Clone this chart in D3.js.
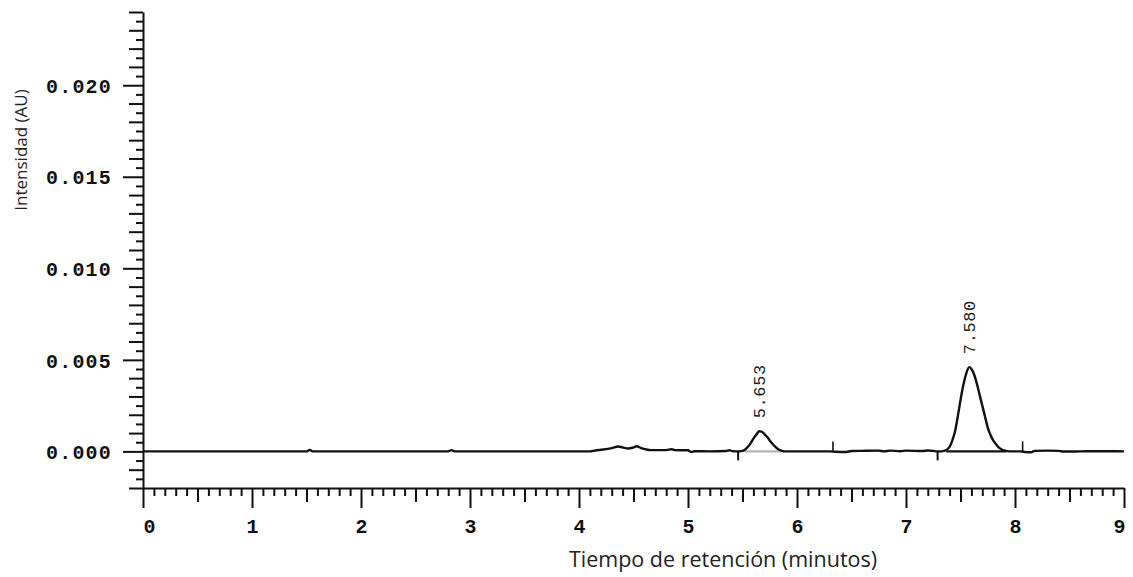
<!DOCTYPE html>
<html>
<head>
<meta charset="utf-8">
<script src="https://cdn.jsdelivr.net/npm/d3@7"></script>
<style>
  html, body { margin: 0; padding: 0; background: #fff; }
  svg { display: block; }
  .tick-label { font-family: "Liberation Mono", "DejaVu Sans Mono", monospace; font-weight: bold; font-size: 20px; fill: #111; }
  .peak-label { font-family: "Liberation Mono", "DejaVu Sans Mono", monospace; font-size: 17px; fill: #222; }
  .axis-title { font-family: "Open Sans", "Noto Sans", sans-serif; fill: #222; }
</style>
</head>
<body>
<svg id="chart" width="1133" height="577"></svg>
<script>
// Chromatogram trace: retention time (min) and absorbance (AU)
const traceTime = [
  0.00, 0.50, 1.00, 1.50, 1.53, 1.56, 2.00, 2.50, 2.80, 2.83, 2.86, 3.50,
  4.10, 4.15, 4.22, 4.30, 4.36, 4.40, 4.45, 4.49, 4.53, 4.57, 4.62, 4.66,
  4.80, 4.85, 4.88, 5.00, 5.03, 5.06, 5.20, 5.35, 5.38, 5.41, 5.45,
  5.50, 5.525, 5.55, 5.575, 5.60, 5.625, 5.653, 5.675, 5.70, 5.725, 5.75,
  5.775, 5.80, 5.825, 5.85, 5.875, 5.90,
  5.95, 6.10, 6.30, 6.35, 6.45, 6.50, 6.60, 6.75, 6.80, 6.85, 6.95, 7.00,
  7.15, 7.20, 7.25, 7.28,
  7.30, 7.35, 7.40, 7.425, 7.45, 7.475, 7.50, 7.525, 7.55, 7.58, 7.60,
  7.625, 7.65, 7.675, 7.70, 7.725, 7.75, 7.775, 7.80, 7.825, 7.85, 7.875,
  7.90, 7.95,
  8.05, 8.10, 8.15, 8.18, 8.30, 8.40, 8.45, 8.60, 8.75, 9.00
];
const traceAU = [
  0.00000, 0.00000, 0.00000, 0.00000, 0.00008, 0.00000, 0.00000, 0.00000, 0.00000, 0.00007, 0.00000, 0.00000,
  0.00000, 0.00005, 0.00010, 0.00018, 0.00027, 0.00022, 0.00016, 0.00020, 0.00028, 0.00018, 0.00010, 0.00007,
  0.00007, 0.00012, 0.00007, 0.00006, -0.00003, 0.00001, 0.00000, 0.00002, 0.00006, 0.00001, 0.00000,
  0.00003, 0.00010, 0.00025, 0.00045, 0.00070, 0.00090, 0.00110, 0.00108, 0.00095, 0.00080, 0.00060,
  0.00042, 0.00026, 0.00013, 0.00005, 0.00001, 0.00000,
  0.00000, 0.00000, 0.00000, -0.00002, -0.00003, 0.00002, 0.00003, 0.00004, 0.00000, 0.00004, 0.00001, 0.00004,
  0.00002, 0.00005, 0.00003, 0.00000,
  0.00000, 0.00003, 0.00025, 0.00060, 0.00110, 0.00190, 0.00280, 0.00360, 0.00420, 0.00460, 0.00450,
  0.00420, 0.00370, 0.00310, 0.00250, 0.00190, 0.00130, 0.00090, 0.00060, 0.00040, 0.00022, 0.00012,
  0.00005, 0.00000,
  0.00000, -0.00004, -0.00005, 0.00003, 0.00004, 0.00003, -0.00001, 0.00000, 0.00001, 0.00000
];

// Integrated peaks: retention time label, apex height, baseline start/end
const peakRT = [5.653, 7.580];
const peakApexAU = [0.00110, 0.00460];
const peakBaseStart = [5.52, 7.37];
const peakBaseEnd = [5.86, 7.92];
const peakBaseColor = ["#b4b4b4", "#111111"];

// Integration event marks (below = start, above = end)
const eventDown = [5.46, 7.29];
const eventUp = [6.33, 8.07];

// Axis ticks
const xMajorTicks = [0, 1, 2, 3, 4, 5, 6, 7, 8, 9];
const yMajorTicks = [0.000, 0.005, 0.010, 0.015, 0.020];

const svg = d3.select("#chart");

const x = d3.scaleLinear().domain([0, 9]).range([143, 1124]);
const y = d3.scaleLinear().domain([-0.002, 0.024]).range([488, 12]);

const ink = "#111";

// ---- Y axis (minor / medium / major) ----
const yMinor = d3.range(-0.0015, 0.024, 0.001).map(v => +v.toFixed(4));
const yMedium = d3.range(-0.002, 0.0245, 0.001).map(v => +v.toFixed(4))
  .filter(v => !yMajorTicks.some(m => Math.abs(m - v) < 1e-9));

function styleAxis(g) {
  g.select(".domain").attr("stroke", ink).attr("stroke-width", 2);
  g.selectAll(".tick line").attr("stroke", ink).attr("stroke-width", 2);
}

svg.append("g").attr("transform", "translate(143,0)")
  .call(d3.axisLeft(y).tickValues(yMinor).tickSize(7).tickSizeOuter(0).tickFormat(""))
  .call(styleAxis);
svg.append("g").attr("transform", "translate(143,0)")
  .call(d3.axisLeft(y).tickValues(yMedium).tickSize(14).tickSizeOuter(0).tickFormat(""))
  .call(g => g.select(".domain").remove())
  .call(styleAxis);
const yMajorG = svg.append("g").attr("transform", "translate(143,0)")
  .call(d3.axisLeft(y).tickValues(yMajorTicks).tickSize(20).tickSizeOuter(0).tickFormat(d3.format(".3f")))
  .call(g => g.select(".domain").remove())
  .call(styleAxis);
yMajorG.selectAll(".tick text")
  .attr("class", "tick-label")
  .attr("x", -31)
  .attr("dy", "0.36em")
  .attr("font-family", null).attr("font-size", null).attr("fill", null)
  .style("letter-spacing", "1.2px");
yMajorG.attr("font-family", null).attr("font-size", null);

// ---- X axis (minor / medium / major) ----
const xMinor = d3.range(0, 9.001, 0.1).map(v => +v.toFixed(1))
  .filter(v => Math.abs(v * 2 - Math.round(v * 2)) > 1e-6);
const xMedium = d3.range(0.5, 9, 1);

svg.append("g").attr("transform", "translate(0,488)")
  .call(d3.axisBottom(x).tickValues(xMinor).tickSize(8).tickSizeOuter(0).tickFormat(""))
  .call(styleAxis);
svg.append("g").attr("transform", "translate(0,488)")
  .call(d3.axisBottom(x).tickValues(xMedium).tickSize(14).tickSizeOuter(0).tickFormat(""))
  .call(g => g.select(".domain").remove())
  .call(styleAxis);
const xMajorG = svg.append("g").attr("transform", "translate(0,488)")
  .call(d3.axisBottom(x).tickValues(xMajorTicks).tickSize(20).tickSizeOuter(0).tickFormat(d3.format("d")))
  .call(g => g.select(".domain").remove())
  .call(styleAxis);
xMajorG.attr("font-family", null).attr("font-size", null);
xMajorG.selectAll(".tick text")
  .attr("class", "tick-label")
  .attr("font-family", null).attr("font-size", null).attr("fill", null)
  .attr("y", 45).attr("dy", 0)
  .attr("text-anchor", (d, i) => i === 0 ? "start" : (i === xMajorTicks.length - 1 ? "end" : "middle"))
  .attr("dx", (d, i) => i === xMajorTicks.length - 1 ? 1 : 0);

// ---- Peak baselines ----
svg.append("g").selectAll("line").data(peakRT).join("line")
  .attr("x1", (d, i) => x(peakBaseStart[i]))
  .attr("x2", (d, i) => x(peakBaseEnd[i]))
  .attr("y1", y(0)).attr("y2", y(0))
  .attr("stroke", (d, i) => peakBaseColor[i])
  .attr("stroke-width", 2.4);

// ---- Trace ----
const pts = traceTime.map((t, i) => [t, traceAU[i]]);
svg.append("path")
  .datum(pts)
  .attr("fill", "none")
  .attr("stroke", ink)
  .attr("stroke-width", 2.4)
  .attr("stroke-linejoin", "round")
  .attr("d", d3.line().x(d => x(d[0])).y(d => y(d[1])).curve(d3.curveMonotoneX));

// ---- Integration event marks ----
svg.append("g").selectAll("line").data(eventDown).join("line")
  .attr("x1", d => x(d)).attr("x2", d => x(d))
  .attr("y1", y(0)).attr("y2", y(0) + 9)
  .attr("stroke", ink).attr("stroke-width", 2);
svg.append("g").selectAll("line").data(eventUp).join("line")
  .attr("x1", d => x(d)).attr("x2", d => x(d))
  .attr("y1", y(0)).attr("y2", y(0) - 10)
  .attr("stroke", ink).attr("stroke-width", 1.6);

// ---- Peak retention-time labels ----
svg.append("g").selectAll("text").data(peakRT).join("text")
  .attr("class", "peak-label")
  .attr("transform", (d, i) => `translate(${x(d) + 6},${y(peakApexAU[i]) - 13}) rotate(-90)`)
  .style("letter-spacing", "0.6px")
  .text(d => d3.format(".3f")(d));

// ---- Axis titles ----
svg.append("text")
  .attr("class", "axis-title")
  .attr("x", 723).attr("y", 567)
  .attr("font-size", 21.5)
  .attr("text-anchor", "middle")
  .text("Tiempo de retención (minutos)");

svg.append("text")
  .attr("class", "axis-title")
  .attr("transform", "translate(27,150) rotate(-90)")
  .attr("font-size", 17)
  .attr("text-anchor", "middle")
  .text("Intensidad (AU)");
</script>
</body>
</html>
